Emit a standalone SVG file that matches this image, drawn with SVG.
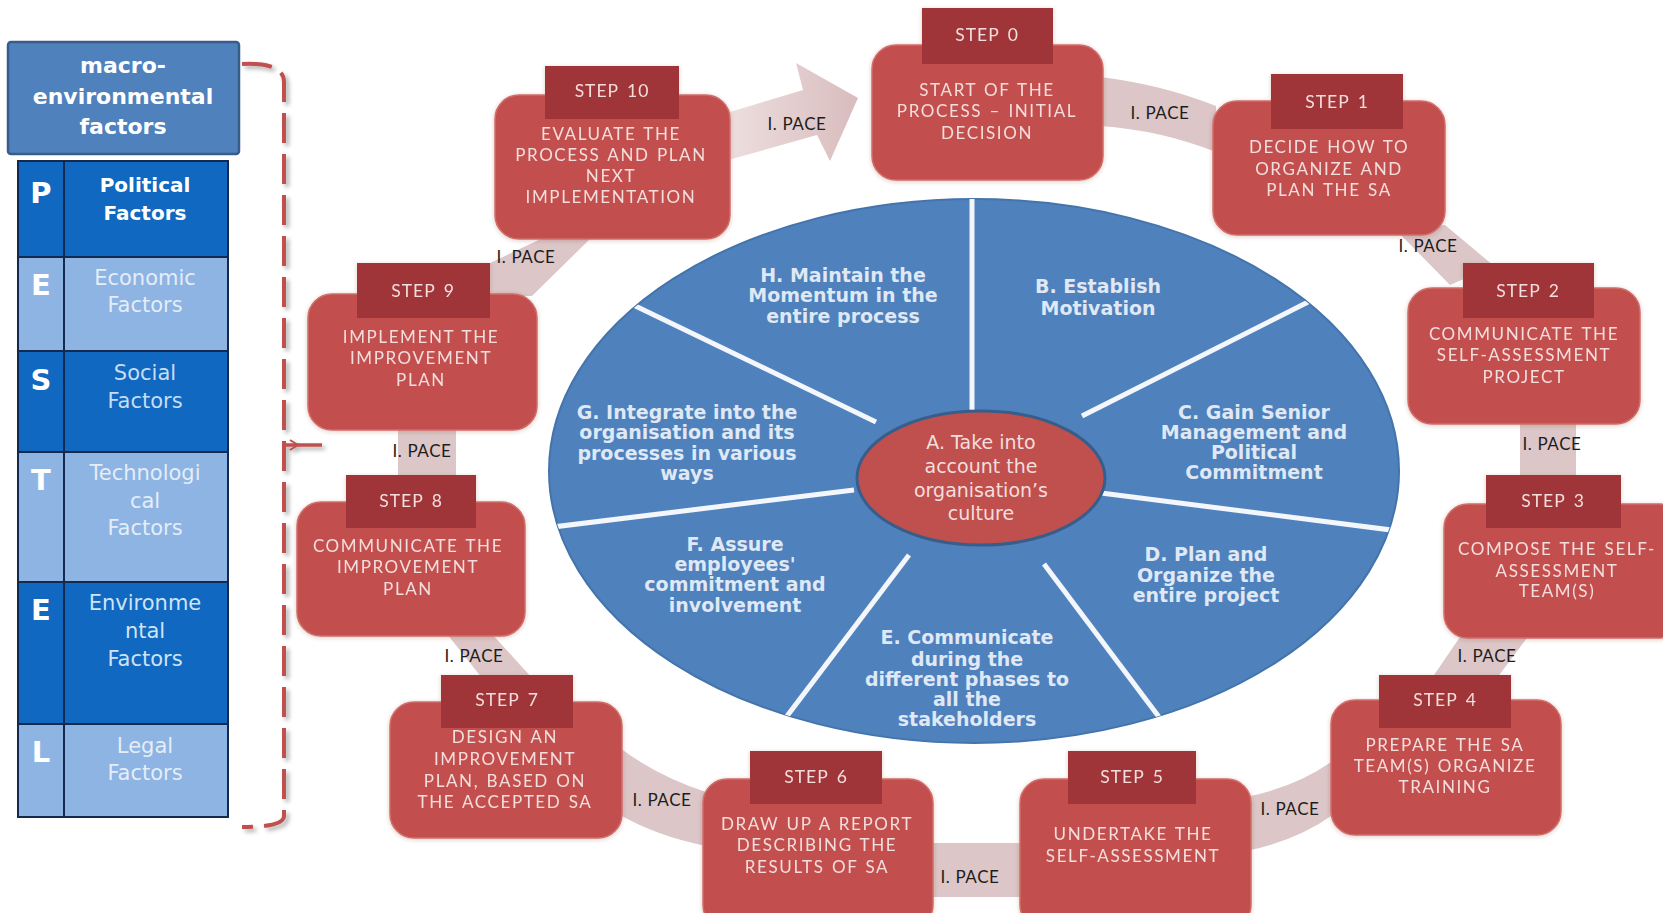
<svg xmlns="http://www.w3.org/2000/svg" width="1663" height="913" viewBox="0 0 1663 913">
<defs>
  <style>
    .body { fill:#c2504e; stroke:#d06e6b; stroke-width:1.5; }
    .head { fill:#9f3538; }
    .stxt { font-family:Lato,"Liberation Sans",sans-serif; font-size:17px; fill:#f3dedd; text-anchor:middle; letter-spacing:1.6px; word-spacing:1.5px; }
    .htxt { font-family:Lato,"Liberation Sans",sans-serif; font-size:17.5px; fill:#f3dedd; text-anchor:middle; letter-spacing:1px; word-spacing:3px; }
    .band { fill:#dcc6c7; }
    .pace { font-family:Lato,"Liberation Sans",sans-serif; font-size:17px; fill:#1c1c1c; text-anchor:middle; letter-spacing:0.6px; }
    .seg { font-family:"DejaVu Sans",sans-serif; font-weight:bold; font-size:19px; fill:#dfe8f4; text-anchor:middle; }
    .core { font-family:"DejaVu Sans",sans-serif; font-size:19px; fill:#f3dedd; text-anchor:middle; }
    .spoke { stroke:#f3f6fa; stroke-width:5; }
    .letter { font-family:"DejaVu Sans",sans-serif; font-weight:bold; font-size:29px; fill:#ffffff; text-anchor:middle; }
    .fac { font-family:"DejaVu Sans",sans-serif; font-size:21px; text-anchor:middle; }
    .dark { fill:#1068c0; }
    .light { fill:#8db4e2; }
    .grid { stroke:#13294d; stroke-width:2; fill:none; }
  </style>
  <linearGradient id="arrowFill" x1="0" y1="0" x2="1" y2="0">
    <stop offset="0" stop-color="#f1e6e6"/>
    <stop offset="1" stop-color="#d9bcbd"/>
  </linearGradient>
  <filter id="soft" x="-10%" y="-10%" width="120%" height="120%">
    <feDropShadow dx="0" dy="1" stdDeviation="2" flood-color="#7a2a28" flood-opacity="0.25"/>
  </filter>
  <filter id="bracketShadow" x="-50%" y="-5%" width="200%" height="110%">
    <feDropShadow dx="3" dy="3" stdDeviation="2" flood-color="#8c8c8c" flood-opacity="0.7"/>
  </filter>
  <clipPath id="wheelClip">
    <ellipse cx="974" cy="471" rx="425" ry="272"/>
  </clipPath>
</defs>

<rect width="1663" height="913" fill="#ffffff"/>

<!-- PESTEL panel -->
<g id="macro-header">
  <rect x="8" y="42" width="231" height="112" rx="3" fill="#4f81bd" stroke="#385d8a" stroke-width="2.5"/>
  <text class="seg" style="font-size:22px;fill:#ffffff" x="123" y="73">macro-</text>
  <text class="seg" style="font-size:22px;fill:#ffffff" x="123" y="104">environmental</text>
  <text class="seg" style="font-size:22px;fill:#ffffff" x="123" y="134">factors</text>
</g>

<g id="pestel-table">
  <rect class="dark" x="18" y="161" width="210" height="96"/>
  <rect class="light" x="18" y="257" width="210" height="94"/>
  <rect class="dark" x="18" y="351" width="210" height="101"/>
  <rect class="light" x="18" y="452" width="210" height="130"/>
  <rect class="dark" x="18" y="582" width="210" height="142"/>
  <rect class="light" x="18" y="724" width="210" height="93"/>
  <path class="grid" d="M18,161 H228 V817 H18 Z M64,161 V817 M18,257 H228 M18,351 H228 M18,452 H228 M18,582 H228 M18,724 H228"/>

  <text class="letter" x="41" y="203">P</text>
  <text class="letter" x="41" y="295">E</text>
  <text class="letter" x="41" y="390">S</text>
  <text class="letter" x="41" y="490">T</text>
  <text class="letter" x="41" y="620">E</text>
  <text class="letter" x="41" y="762">L</text>

  <text class="fac" style="font-weight:bold;font-size:20px" fill="#ffffff" x="145" y="192">Political</text>
  <text class="fac" style="font-weight:bold;font-size:20px" fill="#ffffff" x="145" y="220">Factors</text>
  <text class="fac" fill="#e4edf8" x="145" y="285">Economic</text>
  <text class="fac" fill="#e4edf8" x="145" y="312">Factors</text>
  <text class="fac" fill="#c7ddf3" x="145" y="380">Social</text>
  <text class="fac" fill="#c7ddf3" x="145" y="408">Factors</text>
  <text class="fac" fill="#e4edf8" x="145" y="480">Technologi</text>
  <text class="fac" fill="#e4edf8" x="145" y="508">cal</text>
  <text class="fac" fill="#e4edf8" x="145" y="535">Factors</text>
  <text class="fac" fill="#cfe3f7" x="145" y="610">Environme</text>
  <text class="fac" fill="#cfe3f7" x="145" y="638">ntal</text>
  <text class="fac" fill="#cfe3f7" x="145" y="666">Factors</text>
  <text class="fac" fill="#e4edf8" x="145" y="753">Legal</text>
  <text class="fac" fill="#e4edf8" x="145" y="780">Factors</text>
</g>

<g id="bracket" filter="url(#bracketShadow)" fill="none" stroke="#c0504d" stroke-width="4">
  <path d="M242,64 Q284,62 284,82 L284,816 Q284,827 242,827" stroke-dasharray="30 11"/>
  <path d="M286,445 H322" stroke-width="3.5"/>
  <path d="M298,445 L290,440 M298,445 L290,450" stroke-width="2"/>
</g>

<!-- central wheel -->
<g id="wheel">
  <ellipse cx="974" cy="471" rx="425" ry="272" fill="#4f81bd" stroke="#4474ac" stroke-width="2"/>
  <g clip-path="url(#wheelClip)">
    <line class="spoke" x1="972" y1="150" x2="972" y2="430"/>
    <line class="spoke" x1="876" y1="422" x2="625" y2="301"/>
    <line class="spoke" x1="854" y1="490" x2="545" y2="528"/>
    <line class="spoke" x1="909" y1="555" x2="781" y2="724"/>
    <line class="spoke" x1="1044" y1="564" x2="1162" y2="721"/>
    <line class="spoke" x1="1101" y1="493" x2="1399" y2="531"/>
    <line class="spoke" x1="1082" y1="416" x2="1314" y2="299"/>
  </g>
  <text class="seg" x="843" y="282">H. Maintain the</text>
  <text class="seg" x="843" y="302">Momentum in the</text>
  <text class="seg" x="843" y="323">entire process</text>

  <text class="seg" x="1098" y="293">B. Establish</text>
  <text class="seg" x="1098" y="315">Motivation</text>

  <text class="seg" x="687" y="419">G. Integrate into the</text>
  <text class="seg" x="687" y="439">organisation and its</text>
  <text class="seg" x="687" y="460">processes in various</text>
  <text class="seg" x="687" y="480">ways</text>

  <text class="seg" x="1254" y="419">C. Gain Senior</text>
  <text class="seg" x="1254" y="439">Management and</text>
  <text class="seg" x="1254" y="459">Political</text>
  <text class="seg" x="1254" y="479">Commitment</text>

  <text class="seg" x="735" y="551">F. Assure</text>
  <text class="seg" x="735" y="571">employees'</text>
  <text class="seg" x="735" y="591">commitment and</text>
  <text class="seg" x="735" y="612">involvement</text>

  <text class="seg" x="1206" y="561">D. Plan and</text>
  <text class="seg" x="1206" y="582">Organize the</text>
  <text class="seg" x="1206" y="602">entire project</text>

  <text class="seg" x="967" y="644">E. Communicate</text>
  <text class="seg" x="967" y="666">during the</text>
  <text class="seg" x="967" y="686">different phases to</text>
  <text class="seg" x="967" y="706">all the</text>
  <text class="seg" x="967" y="726">stakeholders</text>
</g>

<g id="core">
  <ellipse cx="981" cy="478" rx="124" ry="67" fill="#c0504d" stroke="#385d8a" stroke-width="3"/>
  <text class="core" x="981" y="449">A. Take into</text>
  <text class="core" x="981" y="473">account the</text>
  <text class="core" x="981" y="497">organisation’s</text>
  <text class="core" x="981" y="520">culture</text>
</g>

<!-- pace connectors between steps -->
<g id="connectors">
  <polygon points="700,121 803,90 796,63 858,98 830,161 817,135 700,168" fill="url(#arrowFill)"/>
  <path class="band" d="M1100,77 Q1160,84 1216,106 L1216,152 Q1160,130 1100,126 Z"/>
  <polygon class="band" points="1398,232 1445,225 1494,266 1450,285"/>
  <rect class="band" x="1520" y="420" width="56" height="58"/>
  <polygon class="band" points="1462,634 1530,634 1497,678 1432,678"/>
  <path class="band" d="M1334,760 Q1298,786 1250,796 L1250,850 Q1298,840 1334,814 Z"/>
  <rect class="band" x="930" y="843" width="92" height="54"/>
  <path class="band" d="M620,748 Q657,776 706,792 L706,846 Q657,836 620,815 Z"/>
  <polygon class="band" points="447,634 492,634 532,678 482,678"/>
  <rect class="band" x="398" y="428" width="58" height="50"/>
  <polygon class="band" points="488,264 545,237 592,237 532,296 488,296"/>

  <text class="pace" x="797" y="130">I. PACE</text>
  <text class="pace" x="1160" y="119">I. PACE</text>
  <text class="pace" x="1428" y="252">I. PACE</text>
  <text class="pace" x="1552" y="450">I. PACE</text>
  <text class="pace" x="1487" y="662">I. PACE</text>
  <text class="pace" x="1290" y="815">I. PACE</text>
  <text class="pace" x="970" y="883">I. PACE</text>
  <text class="pace" x="662" y="806">I. PACE</text>
  <text class="pace" x="474" y="662">I. PACE</text>
  <text class="pace" x="422" y="457">I. PACE</text>
  <text class="pace" x="526" y="263">I. PACE</text>
</g>

<!-- process steps -->
<g id="step-0" filter="url(#soft)">
  <rect class="body" x="872" y="45" width="231" height="135" rx="24"/>
  <rect class="head" x="922" y="8" width="131" height="56"/>
  <text class="htxt" x="987" y="41">STEP 0</text>
  <text class="stxt" x="987" y="96">START OF THE</text>
  <text class="stxt" x="987" y="117">PROCESS – INITIAL</text>
  <text class="stxt" x="987" y="139">DECISION</text>
</g>

<g id="step-1" filter="url(#soft)">
  <rect class="body" x="1213" y="101" width="232" height="134" rx="24"/>
  <rect class="head" x="1271" y="74" width="132" height="55"/>
  <text class="htxt" x="1337" y="108">STEP 1</text>
  <text class="stxt" x="1329" y="153">DECIDE HOW TO</text>
  <text class="stxt" x="1329" y="175">ORGANIZE AND</text>
  <text class="stxt" x="1329" y="196">PLAN THE SA</text>
</g>

<g id="step-2" filter="url(#soft)">
  <rect class="body" x="1408" y="288" width="232" height="136" rx="24"/>
  <rect class="head" x="1463" y="263" width="131" height="55"/>
  <text class="htxt" x="1528" y="297">STEP 2</text>
  <text class="stxt" x="1524" y="340">COMMUNICATE THE</text>
  <text class="stxt" x="1524" y="361">SELF-ASSESSMENT</text>
  <text class="stxt" x="1524" y="383">PROJECT</text>
</g>

<g id="step-3" filter="url(#soft)">
  <rect class="body" x="1444" y="504" width="240" height="134" rx="24"/>
  <rect class="head" x="1486" y="475" width="135" height="53"/>
  <text class="htxt" x="1553" y="507">STEP 3</text>
  <text class="stxt" x="1557" y="555">COMPOSE THE SELF-</text>
  <text class="stxt" x="1557" y="577">ASSESSMENT</text>
  <text class="stxt" x="1557" y="597">TEAM(S)</text>
</g>

<g id="step-4" filter="url(#soft)">
  <rect class="body" x="1331" y="700" width="230" height="135" rx="24"/>
  <rect class="head" x="1379" y="675" width="132" height="53"/>
  <text class="htxt" x="1445" y="706">STEP 4</text>
  <text class="stxt" x="1445" y="751">PREPARE THE SA</text>
  <text class="stxt" x="1445" y="772">TEAM(S) ORGANIZE</text>
  <text class="stxt" x="1445" y="793">TRAINING</text>
</g>

<g id="step-5" filter="url(#soft)">
  <rect class="body" x="1020" y="779" width="231" height="150" rx="24"/>
  <rect class="head" x="1068" y="751" width="128" height="53"/>
  <text class="htxt" x="1132" y="783">STEP 5</text>
  <text class="stxt" x="1133" y="840">UNDERTAKE THE</text>
  <text class="stxt" x="1133" y="862">SELF-ASSESSMENT</text>
</g>

<g id="step-6" filter="url(#soft)">
  <rect class="body" x="703" y="779" width="230" height="150" rx="24"/>
  <rect class="head" x="750" y="751" width="132" height="53"/>
  <text class="htxt" x="816" y="783">STEP 6</text>
  <text class="stxt" x="817" y="830">DRAW UP A REPORT</text>
  <text class="stxt" x="817" y="851">DESCRIBING THE</text>
  <text class="stxt" x="817" y="873">RESULTS OF SA</text>
</g>

<g id="step-7" filter="url(#soft)">
  <rect class="body" x="390" y="702" width="232" height="136" rx="24"/>
  <rect class="head" x="441" y="675" width="132" height="53"/>
  <text class="htxt" x="507" y="706">STEP 7</text>
  <text class="stxt" x="505" y="743">DESIGN AN</text>
  <text class="stxt" x="505" y="765">IMPROVEMENT</text>
  <text class="stxt" x="505" y="787">PLAN, BASED ON</text>
  <text class="stxt" x="505" y="808">THE ACCEPTED SA</text>
</g>

<g id="step-8" filter="url(#soft)">
  <rect class="body" x="297" y="502" width="228" height="134" rx="24"/>
  <rect class="head" x="346" y="475" width="130" height="53"/>
  <text class="htxt" x="411" y="507">STEP 8</text>
  <text class="stxt" x="408" y="552">COMMUNICATE THE</text>
  <text class="stxt" x="408" y="573">IMPROVEMENT</text>
  <text class="stxt" x="408" y="595">PLAN</text>
</g>

<g id="step-9" filter="url(#soft)">
  <rect class="body" x="308" y="294" width="229" height="136" rx="24"/>
  <rect class="head" x="357" y="263" width="133" height="55"/>
  <text class="htxt" x="423" y="297">STEP 9</text>
  <text class="stxt" x="421" y="343">IMPLEMENT THE</text>
  <text class="stxt" x="421" y="364">IMPROVEMENT</text>
  <text class="stxt" x="421" y="386">PLAN</text>
</g>

<g id="step-10" filter="url(#soft)">
  <rect class="body" x="495" y="95" width="235" height="144" rx="24"/>
  <rect class="head" x="545" y="66" width="134" height="53"/>
  <text class="htxt" x="612" y="97">STEP 10</text>
  <text class="stxt" x="611" y="140">EVALUATE THE</text>
  <text class="stxt" x="611" y="161">PROCESS AND PLAN</text>
  <text class="stxt" x="611" y="182">NEXT</text>
  <text class="stxt" x="611" y="203">IMPLEMENTATION</text>
</g>
</svg>
